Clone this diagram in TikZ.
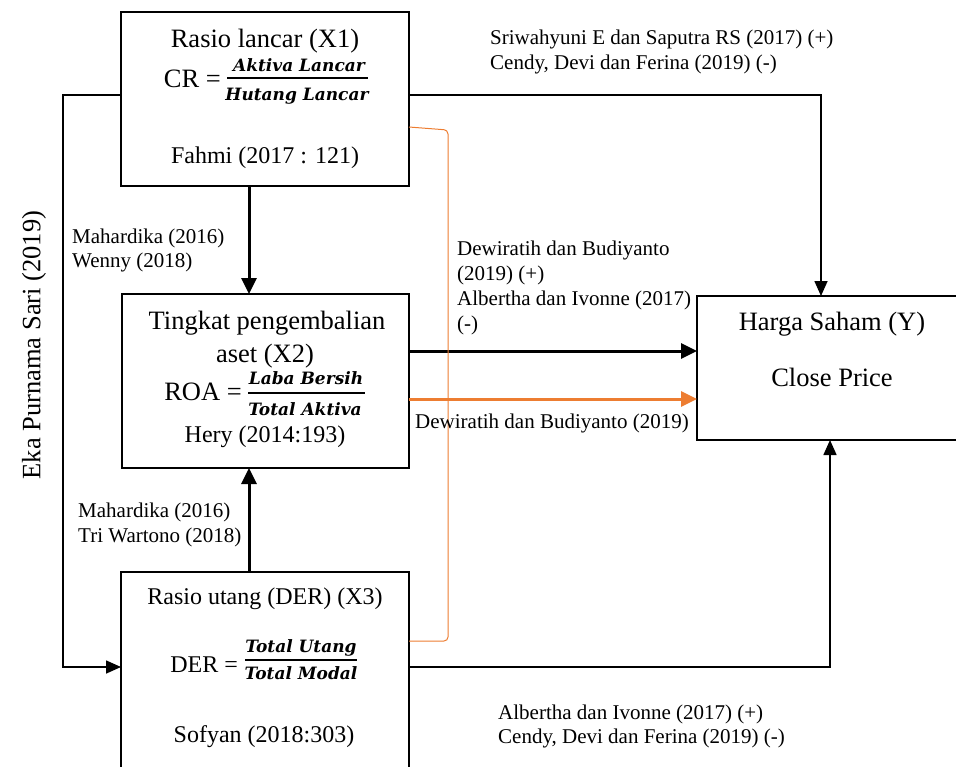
\documentclass[tikz,border=0pt]{standalone}
\usepackage{fontspec}
\setmainfont{Liberation Serif}
\newfontfamily\eqfont{DejaVu Serif}
\usetikzlibrary{arrows.meta}
\definecolor{orng}{RGB}{237,125,49}
\begin{document}
\begin{tikzpicture}[x=1pt,y=-1pt,
  boxn/.style={draw, line width=1.2pt, outer sep=0pt, inner sep=0pt},
  bigtxt/.style={font=\fontsize{26.5}{30}\selectfont, inner sep=0pt, anchor=base},
  midtxt/.style={font=\fontsize{24}{28}\selectfont, inner sep=0pt, anchor=base},
  eqtxt/.style={font=\fontsize{17}{19}\eqfont\bfseries\itshape, inner sep=0pt, anchor=base},
  lbltxt/.style={font=\fontsize{21}{25}\selectfont, inner sep=0pt, anchor=base west},
  fracbar/.style={line width=1.8pt},
  conn/.style={line width=1.6pt, -{Triangle[length=15pt,width=13pt]}},
  thickarr/.style={line width=3pt, -{Triangle[length=16pt,width=15pt]}}
]
\useasboundingbox (0,0) rectangle (956,766);
\clip (0,0) rectangle (956,766);

% boxes
\node[boxn, minimum width=288pt, minimum height=174pt] (b1) at (265,99) {};
\node[boxn, minimum width=287pt, minimum height=174pt] (b2) at (265.5,381) {};
\node[boxn, minimum width=288pt, minimum height=210pt] (b3) at (265,677) {};
\node[boxn, minimum width=272pt, minimum height=144pt] (b4) at (833,368) {};

% top box text
\node[bigtxt] (t1a) at (265,47) {Rasio lancar (X1)};
\node[bigtxt, anchor=base east] (t1b) at (221,87) {CR =};
\draw[fracbar] (227,78) -- (368,78);
\node[eqtxt] (t1n) at (299,71) {Aktiva Lancar};
\node[eqtxt] (t1d) at (297,100) {Hutang Lancar};
\node[midtxt] (t1c) at (265,163) {Fahmi (2017 : 121)};

% middle box text
\node[bigtxt] (t2a) at (267,329) {Tingkat pengembalian};
\node[bigtxt] (t2b) at (265,362) {aset (X2)};
\node[bigtxt, anchor=base east] (t2c) at (242,400) {ROA =};
\draw[fracbar] (248,393) -- (365,393);
\node[eqtxt] (t2n) at (306,384) {Laba Bersih};
\node[eqtxt] (t2d) at (305,415) {Total Aktiva};
\node[midtxt] (t2e) at (265,442) {Hery (2014:193)};

% bottom box text
\node[midtxt] (t3a) at (265,604) {Rasio utang (DER) (X3)};
\node[midtxt, anchor=base east] (t3b) at (238,672) {DER =};
\draw[fracbar] (245,660) -- (357,660);
\node[eqtxt] (t3n) at (301,652) {Total Utang};
\node[eqtxt] (t3d) at (301,679) {Total Modal};
\node[midtxt] (t3c) at (264,742) {Sofyan (2018:303)};

% right box text
\node[bigtxt] (t4a) at (832,330) {Harga Saham (Y)};
\node[bigtxt] (t4b) at (832,386) {Close Price};

% rotated text
\node[font=\fontsize{26.5}{30}\selectfont, rotate=90, inner sep=0pt] (eka) at (34,345) {Eka Purnama Sari (2019)};

% helper coordinates
\coordinate (lc) at (63,667);
\coordinate (tr) at (821,95);
\coordinate (bc) at (830,667);
\coordinate (ax) at (249,0);
\coordinate (ob1) at (448,130);
\coordinate (ob2) at (448,641);

% connectors
\draw[conn] ([yshift=4pt]b1.west) -| (lc) -- (lc -| b3.west);
\draw[conn] ([yshift=4pt]b1.east) -- (tr) -- (tr |- b4.north);
\draw[thickarr] (b1.south -| ax) -- (b2.north -| ax);
\draw[thickarr] (b3.north -| ax) -- (b2.south -| ax);
\draw[thickarr] ([yshift=30pt]b2.east) -- ([yshift=30pt]b2.east -| b4.west);
\draw[thickarr, orng] ([yshift=-18pt]b2.east) -- ([yshift=-18pt]b2.east -| b4.west);
\draw[orng, line width=1pt, rounded corners=4pt] ([yshift=-28pt]b1.east) -- (ob1) -- (ob2) -- ([yshift=36pt]b3.east);
\draw[conn] ([yshift=10pt]b3.east) -- (bc) -- (bc |- b4.south);

% labels
\node[lbltxt] (l1) at (490,44) {Sriwahyuni E dan Saputra RS (2017) (+)};
\node[lbltxt] (l2) at (490,69) {Cendy, Devi dan Ferina (2019) (-)};
\node[lbltxt] (l3) at (72,243) {Mahardika (2016)};
\node[lbltxt] (l4) at (72,267) {Wenny (2018)};
\node[lbltxt] (l5) at (78,517) {Mahardika (2016)};
\node[lbltxt] (l6) at (78,542) {Tri Wartono (2018)};
\node[lbltxt] (l7) at (457,255) {Dewiratih dan Budiyanto};
\node[lbltxt] (l8) at (457,280) {(2019) (+)};
\node[lbltxt] (l9) at (457,305) {Albertha dan Ivonne (2017)};
\node[lbltxt] (l10) at (457,330) {(-)};
\node[lbltxt] (l11) at (415,428) {Dewiratih dan Budiyanto (2019)};
\node[lbltxt] (l12) at (498,719) {Albertha dan Ivonne (2017) (+)};
\node[lbltxt] (l13) at (498,743) {Cendy, Devi dan Ferina (2019) (-)};
\end{tikzpicture}
\end{document}
